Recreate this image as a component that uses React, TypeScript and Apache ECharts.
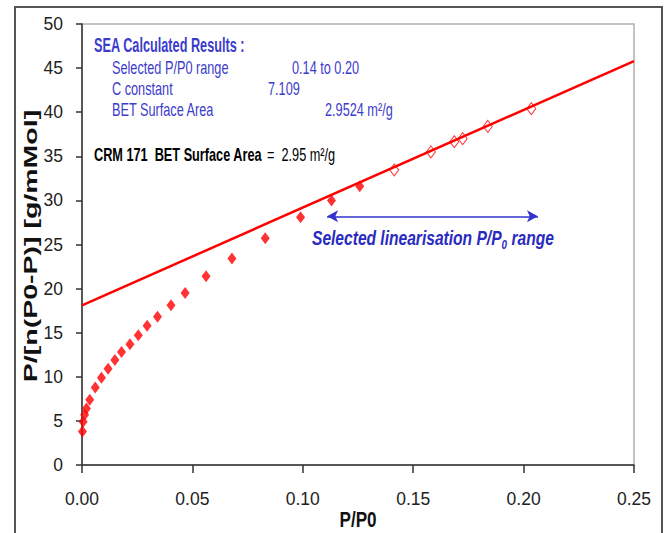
import React, { useEffect, useRef } from "react";
import * as echarts from "echarts";

// Measured BET points (filled diamonds)
const curveX = [0.0002, 0.0005, 0.0012, 0.002, 0.0035, 0.006, 0.0088, 0.0118, 0.0149, 0.0179, 0.0217, 0.0255, 0.0295, 0.0342, 0.0403, 0.0467, 0.0562, 0.0679, 0.083, 0.099, 0.113, 0.1258];
const curveY = [3.8, 4.9, 5.7, 6.4, 7.4, 8.8, 9.9, 10.9, 11.9, 12.8, 13.7, 14.7, 15.8, 16.8, 18.1, 19.5, 21.4, 23.4, 25.7, 28.1, 30.0, 31.6];
// Selected linearisation points (hollow diamonds)
const selX = [0.1414, 0.158, 0.1686, 0.1724, 0.1838, 0.2035];
const selY = [33.45, 35.5, 36.65, 37.0, 38.4, 40.4];
// Fitted BET line
const fitX = [0, 0.25];
const fitY = [18.1, 45.8];
// Arrow showing the selected range
const arrowX = [0.111, 0.2065];
const arrowY = 28.2;

const xMin = 0, xMax = 0.25, xStep = 0.05;
const yMin = 0, yMax = 50, yStep = 5;

const FONT = "'Liberation Sans', Arial, sans-serif";
const BLUE = "#3c3ccc";
const NARROW_X = 0.82;

export default function App() {
  const ref = useRef<HTMLDivElement>(null);
  useEffect(() => {
    if (!ref.current) return;
    const chart = echarts.init(ref.current, null, { renderer: "svg" });
    const boxText = (text: string, x: number, y: number, opts: any = {}) => ({
      type: "text",
      x,
      y,
      scaleX: NARROW_X,
      scaleY: opts.scaleY ?? 1.15,
      silent: true,
      style: {
        text,
        fill: opts.fill ?? BLUE,
        font: `${opts.weight ?? "normal"} ${opts.size ?? 15.5}px ${FONT}`,
        textAlign: "left",
        textVerticalAlign: "middle",
      },
    });
    chart.setOption({
      animation: false,
      backgroundColor: "#ffffff",
      grid: { left: 82, right: 33, top: 24, bottom: 68, show: true, borderColor: "#b0b0b0", borderWidth: 1.5, backgroundColor: "transparent" },
      xAxis: {
        type: "value",
        min: xMin,
        max: xMax,
        interval: xStep,
        name: "",
        axisLine: { show: true, onZero: false, lineStyle: { color: "#333", width: 1.5 } },
        axisTick: { show: true, length: 8, lineStyle: { color: "#333", width: 1.5 } },
        splitLine: { show: false },
        axisLabel: { margin: 25, fontFamily: FONT, fontSize: 17.5, color: "#222", formatter: (v: number) => v.toFixed(2) },
      },
      yAxis: {
        type: "value",
        min: yMin,
        max: yMax,
        interval: yStep,
        axisLine: { show: true, onZero: false, lineStyle: { color: "#333", width: 1.5 } },
        axisTick: { show: true, length: 6, lineStyle: { color: "#333", width: 1.5 } },
        splitLine: { show: false },
        axisLabel: { margin: 19, fontFamily: FONT, fontSize: 17.5, color: "#222" },
      },
      series: [
        {
          type: "line",
          data: fitX.map((x, i) => [x, fitY[i]]),
          symbol: "none",
          lineStyle: { color: "#ff0000", width: 2.5 },
          z: 3,
          markLine: {
            silent: true,
            symbol: ["arrow", "arrow"],
            symbolSize: [9, 11],
            label: { show: false },
            lineStyle: { color: "#3333cc", width: 1.5, type: "solid" },
            data: [[{ coord: [arrowX[0], arrowY] }, { coord: [arrowX[1], arrowY] }]],
          },
        },
        {
          type: "scatter",
          data: curveX.map((x, i) => [x, curveY[i]]),
          symbol: "diamond",
          symbolSize: [9, 12],
          itemStyle: { color: "#ff0000" },
          z: 4,
        },
        {
          type: "scatter",
          data: selX.map((x, i) => [x, selY[i]]),
          symbol: "diamond",
          symbolSize: [9, 12],
          itemStyle: { color: "rgba(255,255,255,0)", borderColor: "#ff0000", borderWidth: 1 },
          z: 4,
        },
      ],
      graphic: [
        { type: "rect", silent: true, shape: { x: 15, y: 7, width: 647, height: 560 }, style: { fill: "none", stroke: "#555", lineWidth: 2 } },
        boxText("SEA Calculated Results :", 94, 45, { weight: "bold", size: 15.5, scaleY: 1.25 }),
        boxText("Selected P/P0 range", 112, 68),
        boxText("0.14 to 0.20", 292, 68),
        boxText("C constant", 112, 89),
        boxText("7.109", 268, 89),
        boxText("BET Surface Area", 112, 110),
        boxText("2.9524 m²/g", 325, 110),
        boxText("CRM 171  BET Surface Area", 94, 155, { weight: "bold", fill: "#000" }),
        boxText("=  2.95 m²/g", 267, 155, { fill: "#000" }),
        {
          type: "text",
          x: 30,
          y: 246,
          rotation: Math.PI / 2,
          scaleX: 1.5,
          silent: true,
          style: {
            text: "P/[n(P0-P)] [g/mMol]",
            fill: "#111",
            font: `bold 19px ${FONT}`,
            textAlign: "center",
            textVerticalAlign: "middle",
          },
        },
        {
          type: "text",
          x: 358,
          y: 519,
          scaleX: 0.9,
          scaleY: 1.15,
          silent: true,
          style: {
            text: "P/P0",
            fill: "#111",
            font: `bold 19px ${FONT}`,
            textAlign: "center",
            textVerticalAlign: "middle",
          },
        },
        {
          type: "text",
          x: 312,
          y: 238,
          scaleX: NARROW_X,
          scaleY: 1.1,
          silent: true,
          style: {
            text: "{a|Selected linearisation P/P}{b|0}{a| range}",
            fill: "#2a2ac0",
            textAlign: "left",
            textVerticalAlign: "middle",
            rich: {
              a: { fontFamily: FONT, fontWeight: "bold", fontStyle: "italic", fontSize: 19, lineHeight: 22, fill: "#2a2ac0" },
              b: { fontFamily: FONT, fontWeight: "bold", fontStyle: "italic", fontSize: 12, lineHeight: 12, verticalAlign: "bottom", padding: [4, 0, 0, 0], fill: "#2a2ac0" },
            },
          },
        },
      ],
    });
    return () => chart.dispose();
  }, []);
  return <div ref={ref} style={{ position: "absolute", left: 0, top: 0, width: 667, height: 533 }} />;
}
